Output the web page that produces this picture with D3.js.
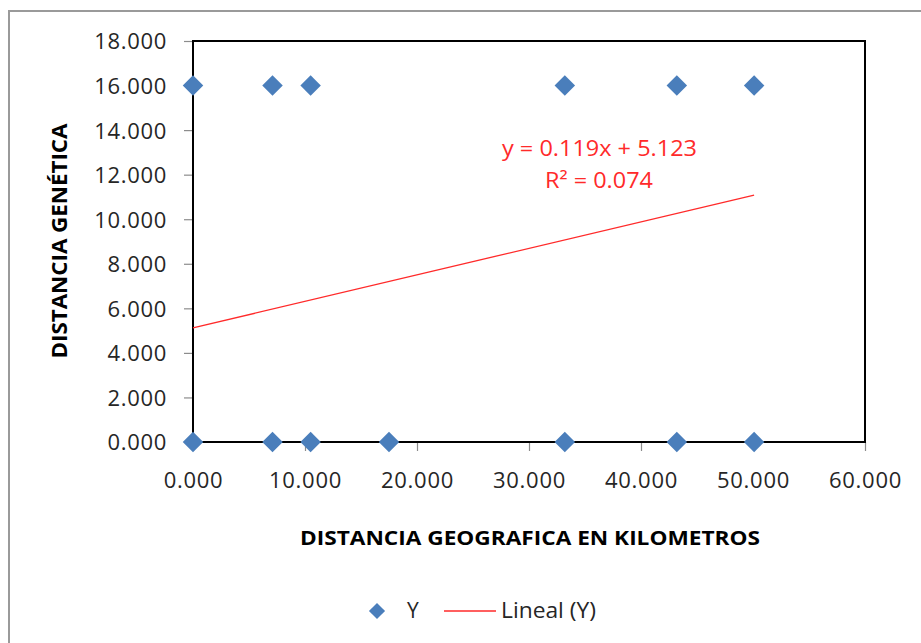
<!DOCTYPE html>
<html>
<head>
<meta charset="utf-8">
<script src="https://cdn.jsdelivr.net/npm/d3@7"></script>
<style>
  html, body { margin: 0; padding: 0; background: #fff; }
  svg { display: block; }
  text { font-family: "Open Sans", sans-serif; }
</style>
</head>
<body>
<div id="chart"></div>
<script>
'use strict';

// values
const xTicks = [0, 10, 20, 30, 40, 50, 60];
const yTicks = [0, 2, 4, 6, 8, 10, 12, 14, 16, 18];
const distGeo = [0, 7.1, 10.5, 33.2, 43.2, 50.1, 0, 7.1, 10.5, 17.5, 33.2, 43.2, 50.1];
const distGen = [16, 16, 16, 16, 16, 16, 0, 0, 0, 0, 0, 0, 0];
const trendSlope = 0.119;
const trendIntercept = 5.123;
const rSquared = 0.074;

const width = 921, height = 643;
const margin = { top: 41, left: 193, right: 56, bottom: 201 };

const svg = d3.select("#chart").append("svg")
  .attr("width", width)
  .attr("height", height);

// chart frame (runs off the right and bottom edges)
svg.append("rect")
  .attr("x", 9).attr("y", 11)
  .attr("width", 940).attr("height", 660)
  .attr("fill", "none")
  .attr("stroke", "#9a9a9a")
  .attr("stroke-width", 2);

const xScale = d3.scaleLinear()
  .domain([0, 60])
  .range([margin.left, width - margin.right]);

const yScale = d3.scaleLinear()
  .domain([0, 18])
  .range([height - margin.bottom, margin.top]);

const fmt = d3.format(".3f");

const xAxis = d3.axisBottom(xScale)
  .tickValues(xTicks)
  .tickFormat(fmt)
  .tickSizeInner(9)
  .tickSizeOuter(0)
  .tickPadding(21);

const yAxis = d3.axisLeft(yScale)
  .tickValues(yTicks)
  .tickFormat(fmt)
  .tickSizeInner(9)
  .tickSizeOuter(0)
  .tickPadding(17);

const gx = svg.append("g")
  .attr("transform", `translate(0, ${yScale(0)})`)
  .call(xAxis);

const gy = svg.append("g")
  .attr("transform", `translate(${xScale(0)}, 0)`)
  .call(yAxis);

[gx, gy].forEach(function (g) {
  g.select(".domain").remove();
  g.selectAll(".tick line").attr("stroke", "#8c8c8c").attr("stroke-width", 1.2);
  g.selectAll(".tick text")
    .attr("fill", "#262626")
    .style("font-size", "22px")
    .style("letter-spacing", "0.7px");
});
gy.selectAll(".tick text").attr("dy", "0.36em");
gx.selectAll(".tick text").attr("dy", "0.71em");

// plot area border
svg.append("rect")
  .attr("x", xScale(0)).attr("y", yScale(18))
  .attr("width", xScale(60) - xScale(0))
  .attr("height", yScale(0) - yScale(18))
  .attr("fill", "none")
  .attr("stroke", "#000")
  .attr("stroke-width", 2);

// trend line
const xMin = d3.min(distGeo), xMax = d3.max(distGeo);
svg.append("line")
  .attr("x1", xScale(xMin))
  .attr("y1", yScale(trendIntercept + trendSlope * xMin))
  .attr("x2", xScale(xMax))
  .attr("y2", yScale(trendIntercept + trendSlope * xMax))
  .attr("stroke", "#ff2a2a")
  .attr("stroke-width", 1.3);

// points
const diamond = d3.symbol().type(d3.symbolSquare).size(210);
svg.selectAll(".dot")
  .data(distGeo.map(function (d, i) { return { x: d, y: distGen[i] }; }))
  .enter().append("path")
  .attr("class", "dot")
  .attr("d", diamond)
  .attr("transform", function (d) {
    return `translate(${xScale(d.x)}, ${yScale(d.y)}) rotate(45)`;
  })
  .attr("fill", "#4a7ebb");

// equation
svg.append("text")
  .attr("x", 599.5).attr("y", 156)
  .attr("text-anchor", "middle")
  .attr("fill", "#ff2a2a")
  .style("font-size", "21px")
  .attr("textLength", 195)
  .attr("lengthAdjust", "spacingAndGlyphs")
  .text(`y = ${trendSlope.toFixed(3)}x + ${trendIntercept.toFixed(3)}`);

svg.append("text")
  .attr("x", 599).attr("y", 188)
  .attr("text-anchor", "middle")
  .attr("fill", "#ff2a2a")
  .style("font-size", "21px")
  .attr("textLength", 108)
  .attr("lengthAdjust", "spacingAndGlyphs")
  .text(`R² = ${rSquared.toFixed(3)}`);

// axis titles
svg.append("text")
  .attr("x", 530).attr("y", 545)
  .attr("text-anchor", "middle")
  .attr("fill", "#000")
  .style("font-size", "19px")
  .style("font-weight", "bold")
  .attr("textLength", 460)
  .attr("lengthAdjust", "spacingAndGlyphs")
  .text("DISTANCIA GEOGRAFICA EN KILOMETROS");

svg.append("text")
  .attr("transform", "translate(67, 241) rotate(-90)")
  .attr("text-anchor", "middle")
  .attr("fill", "#000")
  .style("font-size", "21px")
  .style("font-weight", "bold")
  .attr("textLength", 235)
  .attr("lengthAdjust", "spacingAndGlyphs")
  .text("DISTANCIA GENÉTICA");

// legend
const legend = svg.append("g");
legend.append("path")
  .attr("d", d3.symbol().type(d3.symbolSquare).size(130))
  .attr("transform", "translate(377, 611) rotate(45)")
  .attr("fill", "#4a7ebb");
legend.append("text")
  .attr("x", 407).attr("y", 618)
  .attr("fill", "#262626")
  .style("font-size", "21px")
  .text("Y");
legend.append("line")
  .attr("x1", 444).attr("x2", 496)
  .attr("y1", 611).attr("y2", 611)
  .attr("stroke", "#ff2a2a")
  .attr("stroke-width", 1.3);
legend.append("text")
  .attr("x", 501).attr("y", 618)
  .attr("fill", "#262626")
  .style("font-size", "21px")
  .attr("textLength", 95)
  .attr("lengthAdjust", "spacingAndGlyphs")
  .text("Lineal (Y)");
</script>
</body>
</html>
